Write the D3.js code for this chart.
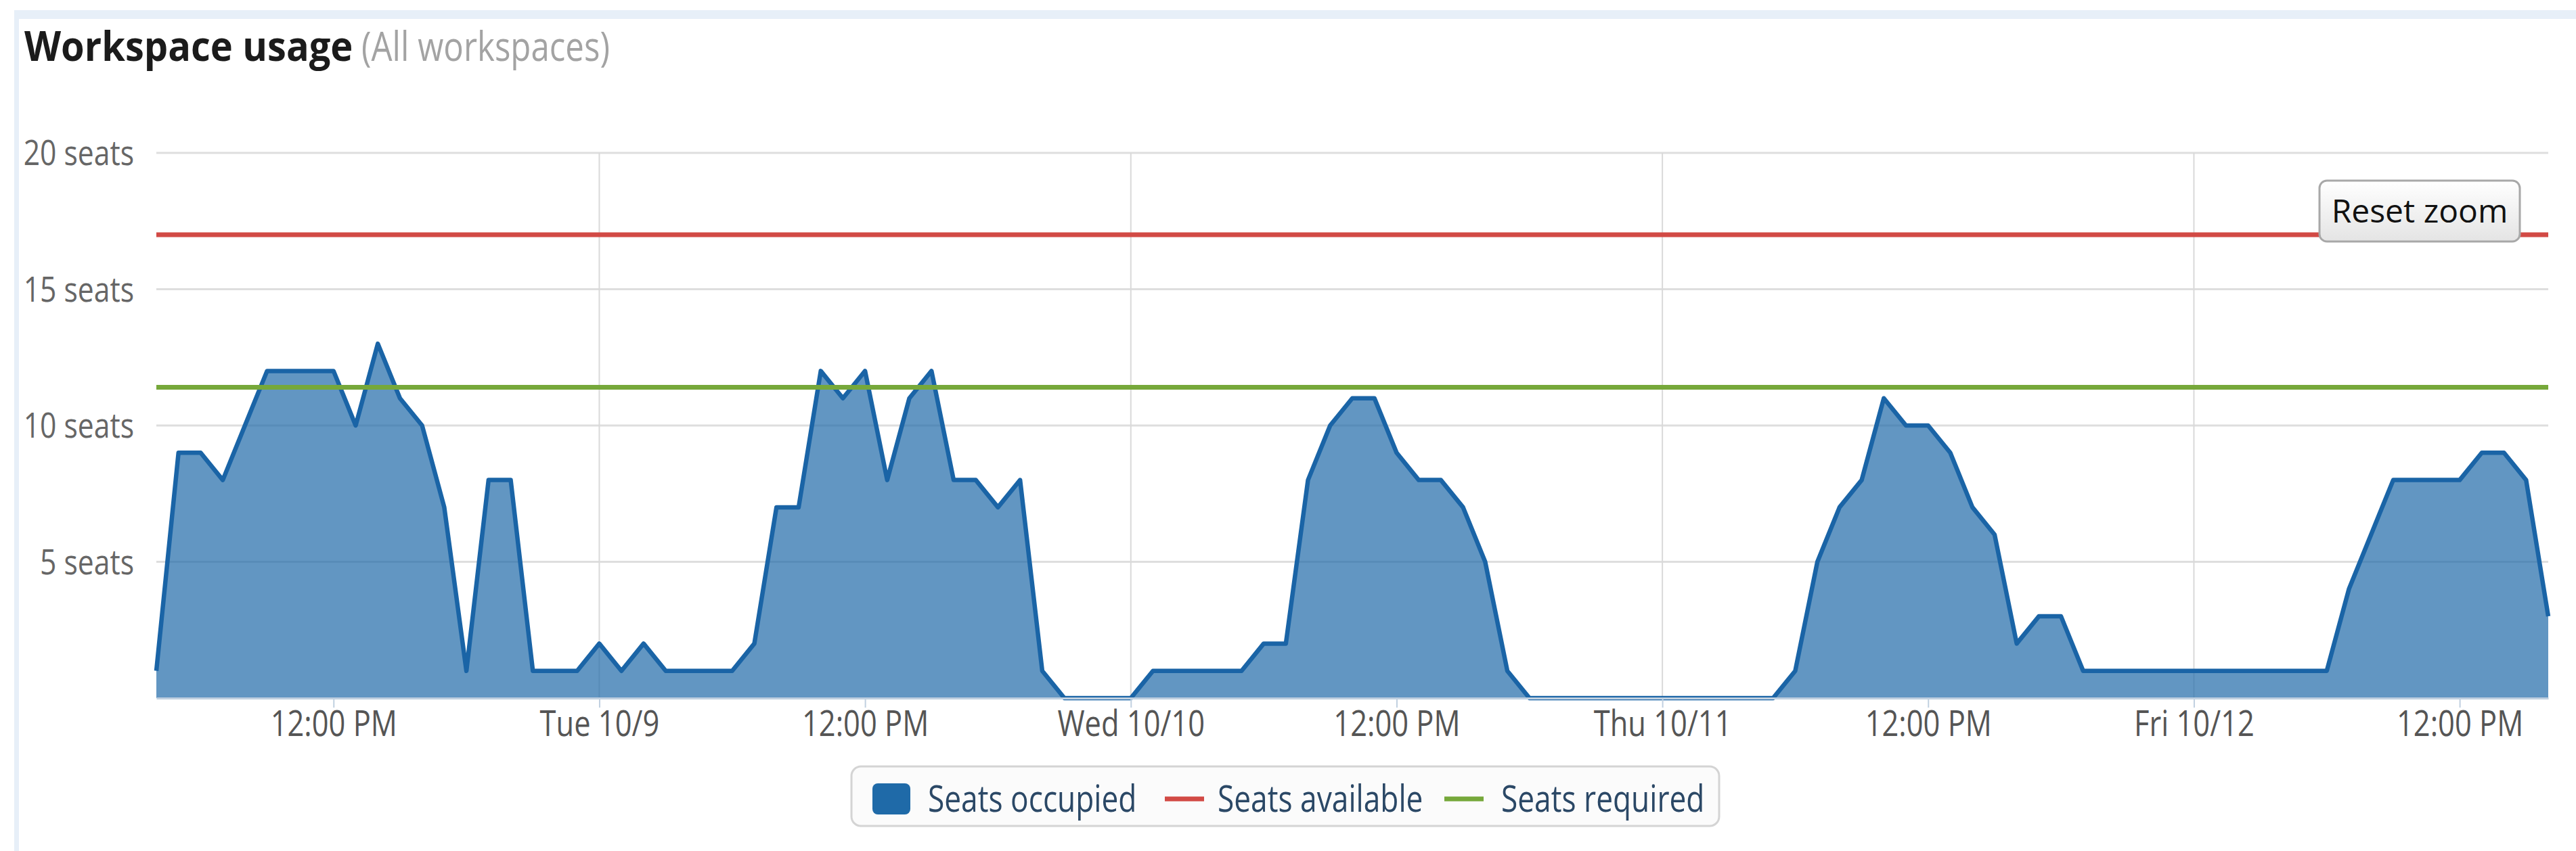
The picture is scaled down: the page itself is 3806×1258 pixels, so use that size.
<!DOCTYPE html>
<html>
<head>
<meta charset="utf-8">
<script src="https://cdn.jsdelivr.net/npm/d3@7"></script>
<style>
  body { margin: 0; background: #fff; }
  svg { display: block; font-family: "Open Sans", "Noto Sans", sans-serif; }
</style>
</head>
<body>
<svg id="chart" width="3806" height="1258"></svg>
<script>
// hourly readings, first one is Mon 10/8 04:00
var firstHour = "2012-10-08T04:00:00";
var seatsMon = [1, 9, 9, 8, 10, 12, 12, 12, 12, 10, 13, 11, 10, 7, 1, 8, 8, 1, 1, 1];
var seatsTue = [2, 1, 2, 1, 1, 1, 1, 2, 7, 7, 12, 11, 12, 8, 11, 12, 8, 8, 7, 8, 1, 0, 0, 0];
var seatsWed = [0, 1, 1, 1, 1, 1, 2, 2, 8, 10, 11, 11, 9, 8, 8, 7, 5, 1, 0, 0, 0, 0, 0, 0];
var seatsThu = [0, 0, 0, 0, 0, 0, 1, 5, 7, 8, 11, 10, 10, 9, 7, 6, 2, 3, 3, 1, 1, 1, 1, 1];
var seatsFri = [1, 1, 1, 1, 1, 1, 1, 4, 6, 8, 8, 8, 8, 9, 9, 8, 3];

var seatsAvailable = 17;
var seatsRequired = 11.4;

var yTicks = [5, 10, 15, 20];
var xTickDates = ["2012-10-08T12:00", "2012-10-09T00:00", "2012-10-09T12:00", "2012-10-10T00:00",
                  "2012-10-10T12:00", "2012-10-11T00:00", "2012-10-11T12:00", "2012-10-12T00:00",
                  "2012-10-12T12:00"];
var xTickLabels = ["12:00 PM", "Tue 10/9", "12:00 PM", "Wed 10/10", "12:00 PM", "Thu 10/11",
                   "12:00 PM", "Fri 10/12", "12:00 PM"];
var dayStarts = ["2012-10-09T00:00", "2012-10-10T00:00", "2012-10-11T00:00", "2012-10-12T00:00"];
var seriesNames = ["Seats occupied", "Seats available", "Seats required"];
var seriesColors = ["#1f6aa8", "#d24a45", "#76a83a"];

var svg = d3.select("#chart");
var plotLeft = 231, plotRight = 3765, plotTop = 226, plotBottom = 1032;
var sx = 0.82; // the source font is narrow

var seats = seatsMon.concat(seatsTue, seatsWed, seatsThu, seatsFri);
var t0 = new Date(firstHour);
var data = seats.map(function(v, i) {
  return { t: d3.timeHour.offset(t0, i), v: v };
});

var x = d3.scaleTime()
  .domain([data[0].t, data[data.length - 1].t])
  .range([plotLeft, plotRight]);
var y = d3.scaleLinear().domain([0, 20]).range([plotBottom, plotTop]);

// panel frame
svg.append("rect").attr("x", 21).attr("y", 15).attr("width", 3785).attr("height", 13).attr("fill", "#e7eff8");
svg.append("rect").attr("x", 21).attr("y", 15).attr("width", 7).attr("height", 1243).attr("fill", "#e7eff8");

// title
svg.append("text")
  .attr("transform", "translate(36,90) scale(0.933,1)")
  .attr("font-size", 60).attr("font-weight", "bold").attr("fill", "#1b1b1b")
  .text("Workspace usage");
svg.append("text")
  .attr("transform", "translate(534,90) scale(" + sx + ",1)")
  .attr("font-size", 60).attr("fill", "#a3a3a3")
  .text("(All workspaces)");

// grid
svg.append("g").selectAll("line").data(yTicks).join("line")
  .attr("x1", plotLeft).attr("x2", plotRight)
  .attr("y1", d => y(d)).attr("y2", d => y(d))
  .attr("stroke", "#dedede").attr("stroke-width", 3);
svg.append("g").selectAll("line").data(dayStarts).join("line")
  .attr("x1", d => x(new Date(d))).attr("x2", d => x(new Date(d)))
  .attr("y1", plotTop).attr("y2", plotBottom)
  .attr("stroke", "#d9d9d9").attr("stroke-width", 2);

// y axis labels
var yAxis = svg.append("g")
  .attr("transform", "translate(" + plotLeft + ",0)")
  .call(d3.axisLeft(y).tickValues(yTicks).tickSize(0).tickFormat(d => d + " seats"))
  .attr("font-family", null).attr("font-size", null);
yAxis.select(".domain").remove();
yAxis.selectAll("text")
  .attr("x", -33 / sx).attr("dy", "0.34em")
  .attr("transform", "scale(" + sx + ",1)")
  .attr("font-size", 52).attr("fill", "#666");

// occupied area
var area = d3.area().x(d => x(d.t)).y0(y(0)).y1(d => y(d.v));
var line = d3.line().x(d => x(d.t)).y(d => y(d.v));
svg.append("path").datum(data).attr("d", area)
  .attr("fill", seriesColors[0]).attr("fill-opacity", 0.7);
svg.append("path").datum(data).attr("d", line)
  .attr("fill", "none").attr("stroke", "#1a64a6").attr("stroke-width", 6.5)
  .attr("stroke-linejoin", "round");

// available / required lines
svg.append("g").selectAll("line").data([seatsAvailable, seatsRequired]).join("line")
  .attr("x1", plotLeft).attr("x2", plotRight)
  .attr("y1", d => y(d)).attr("y2", d => y(d))
  .attr("stroke", (d, i) => seriesColors[i + 1]).attr("stroke-width", 7);

// x axis
var xAxis = svg.append("g")
  .attr("transform", "translate(0," + plotBottom + ")")
  .call(d3.axisBottom(x)
    .tickValues(xTickDates.map(d => new Date(d)))
    .tickFormat((d, i) => xTickLabels[i])
    .tickSize(14).tickSizeOuter(0))
  .attr("font-family", null).attr("font-size", null);
xAxis.select(".domain").attr("stroke", "#c0d0e0").attr("stroke-width", 3);
xAxis.selectAll(".tick line").attr("stroke", "#c0d0e0").attr("stroke-width", 2);
xAxis.selectAll("text")
  .attr("y", 56).attr("dy", null)
  .attr("transform", "scale(" + sx + ",1)")
  .attr("font-size", 53).attr("fill", "#555");

// reset zoom button
var btn = svg.append("g").attr("transform", "translate(3427,267)");
var grad = svg.append("defs").append("linearGradient").attr("id", "btnGrad")
  .attr("x1", 0).attr("y1", 0).attr("x2", 0).attr("y2", 1);
grad.append("stop").attr("offset", 0).attr("stop-color", "#ffffff");
grad.append("stop").attr("offset", 1).attr("stop-color", "#e4e4e4");
btn.append("rect").attr("width", 296).attr("height", 90).attr("rx", 11)
  .attr("fill", "url(#btnGrad)").attr("stroke", "#a8a8a8").attr("stroke-width", 3);
btn.append("text").attr("x", 148).attr("y", 62).attr("text-anchor", "middle")
  .attr("font-size", 48).attr("fill", "#111").text("Reset zoom");

// legend
var lg = svg.append("g").attr("transform", "translate(1258,1133)");
lg.append("rect").attr("width", 1282).attr("height", 88).attr("rx", 14)
  .attr("fill", "#fbfbfb").attr("stroke", "#d4d4d4").attr("stroke-width", 3);
lg.append("rect").attr("x", 31).attr("y", 25).attr("width", 56).attr("height", 46).attr("rx", 8)
  .attr("fill", seriesColors[0]);
var itemX = [113, 541, 960];
var markX = [null, 463, 876];
lg.selectAll("line.mark").data([1, 2]).join("line")
  .attr("x1", d => markX[d]).attr("x2", d => markX[d] + 58)
  .attr("y1", 48).attr("y2", 48)
  .attr("stroke", d => seriesColors[d]).attr("stroke-width", 7);
lg.selectAll("text").data(seriesNames).join("text")
  .attr("transform", (d, i) => "translate(" + itemX[i] + ",67) scale(" + sx + ",1)")
  .attr("font-size", 54).attr("fill", "#2b4866")
  .text(d => d);
</script>
</body>
</html>
